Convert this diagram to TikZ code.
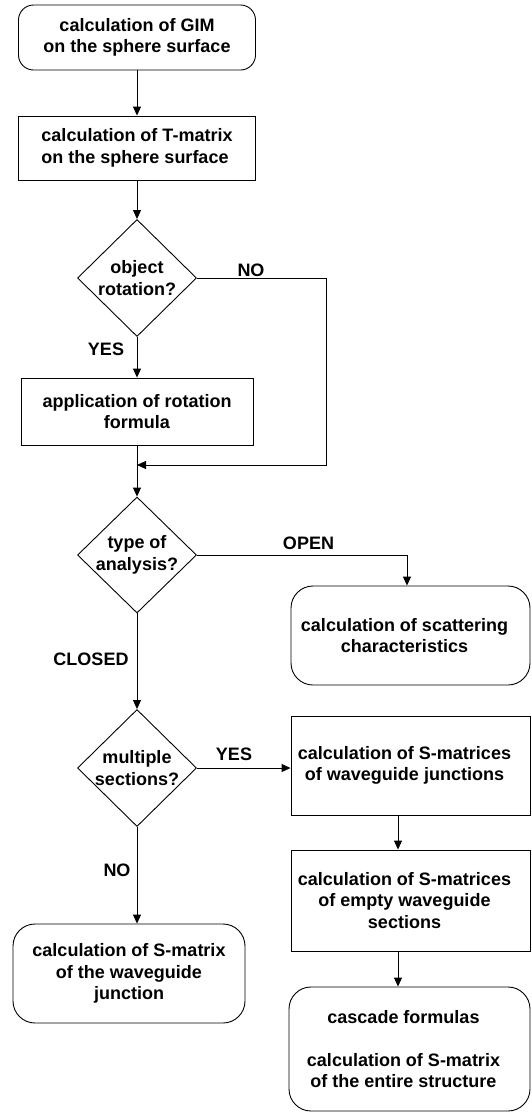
\documentclass[tikz,border=0pt]{standalone}
\usepackage{fontspec}
\setmainfont{Liberation Sans}
\usetikzlibrary{positioning,arrows.meta,shapes}

\begin{document}
\begin{tikzpicture}[
  x=1pt, y=-1pt,
  font=\bfseries\fontsize{18}{21.5}\selectfont,
  box/.style={rectangle, draw=black, line width=0.9pt, inner sep=3pt, fill=white, align=center},
  rbox/.style={box, rounded corners=22pt},
  dec/.style={diamond, draw=black, line width=0.9pt, inner sep=0pt, fill=white,
              minimum width=119pt, minimum height=117pt},
  txt/.style={align=center},
  rtxt/.style={txt, xshift=-6pt},
  lbl/.style={inner sep=0pt},
  arr/.style={-{Triangle[length=9pt,width=8pt]}, draw=black, line width=0.9pt}
]
\useasboundingbox (0,0) rectangle (531,1112);

% left column
\node[box, rounded corners=15pt, minimum width=237pt, minimum height=65pt] (gim) at (137,37.5)
  {calculation of GIM\\on the sphere surface};
\node[box, align=left, minimum width=237pt, minimum height=64pt] (tmat) at (137,148)
  {calculation of T-matrix\\on the sphere surface};
\node[dec, label={[txt]center:{object\\rotation?}}] (rot) at (137,278) {};
\node[box, minimum width=232pt, minimum height=67pt] (app) at (137,411.5)
  {application of rotation\\formula};
\coordinate (join) at (137,465);
\coordinate (noc) at (326,465);
\node[dec, minimum height=116pt, label={[txt]center:{type of\\analysis?}}] (ana) at (137,555) {};
\node[dec, label={[txt]center:{multiple\\sections?}}] (multi) at (137,768) {};
\node[rbox, minimum width=232pt, minimum height=99pt] (sjun) at (129,973.5)
  {calculation of S-matrix\\of the waveguide\\junction};

% right column
\node[rbox, minimum width=239pt, minimum height=99pt,
      label={[rtxt]center:{calculation of scattering\\characteristics}}] (scat) at (410.5,635.5) {};
\node[box, minimum width=239pt, minimum height=99pt,
      label={[rtxt]center:{calculation of S-matrices\\of waveguide junctions}}] (wjun) at (410.5,765.5) {};
\node[box, minimum width=239pt, minimum height=101pt,
      label={[rtxt]center:{calculation of S-matrices\\of empty waveguide\\sections}}] (ewg) at (410.5,900.5) {};
\node[rbox, minimum width=241pt, minimum height=124pt,
      label={[rtxt]center:{cascade formulas\\[21.5pt]calculation of S-matrix\\of the entire structure}}] (casc) at (409.5,1049) {};
\coordinate (rc) at (398,0);

% branch labels
\node[lbl] (lno) at (251,270) {NO};
\node[lbl] (lyes) at (106,349) {YES};
\node[lbl] (lopen) at (308.5,543) {OPEN};
\node[lbl] (lclosed) at (91,659) {CLOSED};
\node[lbl] (lyes2) at (234,754) {YES};
\node[lbl] (lno2) at (117,870) {NO};

\draw[arr] (gim) -- (tmat);
\draw[arr] (tmat) -- (rot);
\draw[arr] (rot) -- (app);
\draw[arr] (rot.east) -| (noc) -- (join);
\draw[arr] (app) -- (ana);
\draw[arr] (ana.east) -| ([xshift=-3.5pt]scat.north);
\draw[arr] (ana) -- (multi);
\draw[arr] (multi.east) -- (multi.east -| wjun.west);
\draw[arr] (multi.south) -- (multi.south |- sjun.north);
\draw[arr] (wjun.south -| rc) -- (ewg.north -| rc);
\draw[arr] (ewg.south -| rc) -- (casc.north -| rc);
\end{tikzpicture}
\end{document}
